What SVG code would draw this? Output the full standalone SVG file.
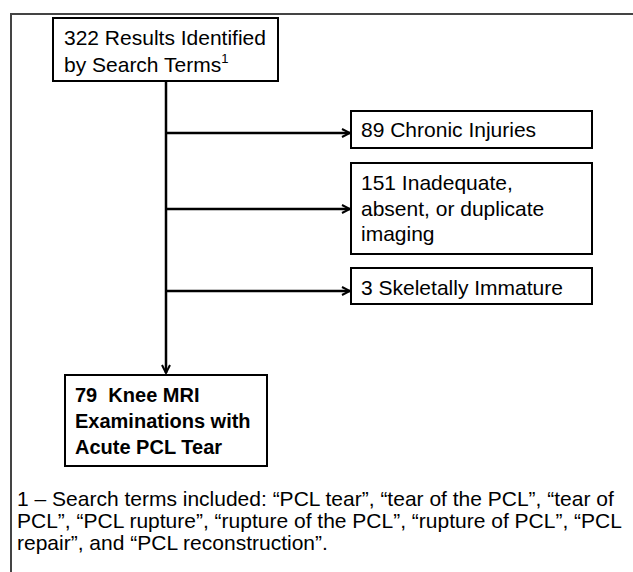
<svg xmlns="http://www.w3.org/2000/svg" width="633" height="572" viewBox="0 0 633 572">
<style>
.box{fill:#fff;stroke:#000;stroke-width:2}
.t{font-family:"Liberation Sans",Arial,sans-serif;font-size:21px;fill:#000}
.b{font-weight:bold;font-size:20px}
.f{font-family:"Liberation Sans",Arial,sans-serif;font-size:21px;fill:#000}
.ln{stroke:#000;stroke-width:2.5;fill:none}
</style>
<defs>
<marker id="ah" viewBox="0 0 10 10" refX="9" refY="5" markerWidth="10" markerHeight="10" markerUnits="userSpaceOnUse" orient="auto">
<path d="M1,1 L9,5 L1,9" fill="none" stroke="#000" stroke-width="2"/>
</marker>
</defs>
<rect width="633" height="572" fill="#fff"/>
<path d="M11,572 V14 H633" fill="none" stroke="#444" stroke-width="2"/>
<g id="connectors">
<line class="ln" x1="166" y1="81" x2="166" y2="373" marker-end="url(#ah)"/>
<line class="ln" x1="166" y1="133" x2="350" y2="133" marker-end="url(#ah)"/>
<line class="ln" x1="166" y1="209" x2="350" y2="209" marker-end="url(#ah)"/>
<line class="ln" x1="166" y1="291" x2="350" y2="291" marker-end="url(#ah)"/>
</g>
<g id="n1">
<rect class="box" x="53" y="18" width="225" height="63"/>
<text class="t" x="64" y="45">322 Results Identified</text>
<text class="t" x="64" y="72">by Search Terms<tspan font-size="13" dy="-9">1</tspan></text>
</g>
<g id="n2">
<rect class="box" x="351" y="111" width="241" height="37"/>
<text class="t" x="361" y="137">89 Chronic Injuries</text>
</g>
<g id="n3">
<rect class="box" x="351" y="163" width="241" height="91"/>
<text class="t" x="361" y="190">151 Inadequate,</text>
<text class="t" x="361" y="216">absent, or duplicate</text>
<text class="t" x="361" y="241">imaging</text>
</g>
<g id="n4">
<rect class="box" x="351" y="268" width="241" height="36"/>
<text class="t" x="361" y="295">3 Skeletally Immature</text>
</g>
<g id="n5">
<rect class="box" x="65" y="375" width="202" height="91"/>
<text class="t b" x="75" y="402" xml:space="preserve">79  Knee MRI</text>
<text class="t b" x="75" y="428">Examinations with</text>
<text class="t b" x="75" y="454">Acute PCL Tear</text>
</g>
<g id="footnote">
<text class="f" x="17" y="506">1 – Search terms included: “PCL tear”, “tear of the PCL”, “tear of</text>
<text class="f" x="17" y="528">PCL”, “PCL rupture”, “rupture of the PCL”, “rupture of PCL”, “PCL</text>
<text class="f" x="17" y="550">repair”, and “PCL reconstruction”.</text>
</g>
</svg>
